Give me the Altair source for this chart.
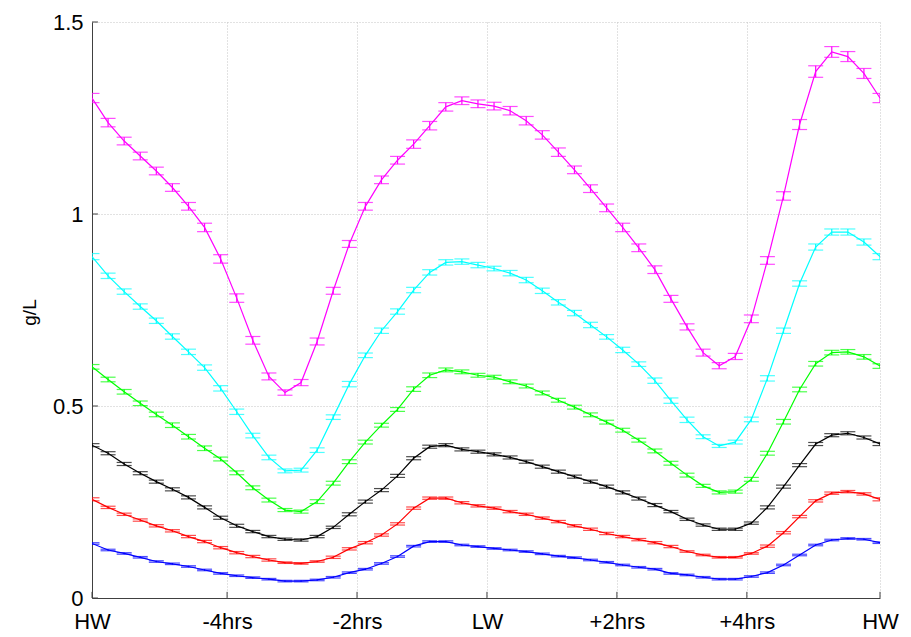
import altair as alt
import pandas as pd

# ---- data (index 0..49 over one tidal cycle HW -> HW) ----
series_names = ["blue", "red", "black", "green", "cyan", "magenta"]
series_colors = ["#0000FF", "#FF0000", "#000000", "#00FF00", "#00FFFF", "#FF00FF"]

magenta = [1.302, 1.238, 1.190, 1.151, 1.112, 1.069, 1.020, 0.965, 0.883, 0.781,
           0.671, 0.577, 0.535, 0.561, 0.668, 0.800, 0.922, 1.020, 1.089, 1.140,
           1.182, 1.230, 1.279, 1.295, 1.287, 1.281, 1.269, 1.243, 1.206, 1.161,
           1.115, 1.066, 1.016, 0.965, 0.912, 0.855, 0.779, 0.706, 0.639, 0.605,
           0.629, 0.727, 0.879, 1.047, 1.233, 1.371, 1.422, 1.410, 1.366, 1.302]
cyan = [0.889, 0.839, 0.798, 0.759, 0.722, 0.681, 0.641, 0.600, 0.546, 0.485,
        0.423, 0.366, 0.331, 0.333, 0.385, 0.471, 0.557, 0.632, 0.696, 0.746,
        0.802, 0.848, 0.874, 0.876, 0.867, 0.858, 0.846, 0.828, 0.800, 0.770,
        0.742, 0.711, 0.680, 0.646, 0.609, 0.566, 0.514, 0.464, 0.420, 0.396,
        0.406, 0.465, 0.572, 0.696, 0.819, 0.914, 0.953, 0.953, 0.927, 0.889]
green = [0.602, 0.569, 0.537, 0.507, 0.478, 0.450, 0.420, 0.390, 0.362, 0.326,
         0.287, 0.255, 0.229, 0.225, 0.251, 0.299, 0.355, 0.406, 0.450, 0.491,
         0.544, 0.580, 0.594, 0.589, 0.580, 0.575, 0.563, 0.552, 0.534, 0.515,
         0.497, 0.477, 0.458, 0.437, 0.411, 0.383, 0.351, 0.320, 0.292, 0.275,
         0.277, 0.309, 0.377, 0.459, 0.543, 0.610, 0.639, 0.641, 0.628, 0.604]
black = [0.398, 0.377, 0.349, 0.325, 0.303, 0.283, 0.262, 0.236, 0.209, 0.188,
         0.173, 0.160, 0.153, 0.151, 0.160, 0.184, 0.218, 0.251, 0.281, 0.318,
         0.364, 0.394, 0.398, 0.387, 0.381, 0.374, 0.366, 0.355, 0.342, 0.329,
         0.316, 0.303, 0.290, 0.275, 0.259, 0.242, 0.225, 0.205, 0.190, 0.179,
         0.179, 0.195, 0.236, 0.290, 0.346, 0.401, 0.424, 0.429, 0.418, 0.401]
red = [0.257, 0.236, 0.218, 0.203, 0.188, 0.175, 0.160, 0.147, 0.131, 0.118,
       0.108, 0.099, 0.092, 0.090, 0.095, 0.106, 0.128, 0.144, 0.164, 0.193,
       0.234, 0.260, 0.260, 0.248, 0.240, 0.234, 0.225, 0.218, 0.208, 0.199,
       0.188, 0.179, 0.168, 0.160, 0.152, 0.144, 0.134, 0.121, 0.112, 0.106,
       0.106, 0.116, 0.135, 0.170, 0.212, 0.253, 0.273, 0.277, 0.271, 0.257]
blue = [0.142, 0.125, 0.116, 0.106, 0.095, 0.089, 0.082, 0.073, 0.064, 0.058,
        0.053, 0.049, 0.044, 0.044, 0.047, 0.054, 0.066, 0.075, 0.090, 0.108,
        0.135, 0.147, 0.147, 0.138, 0.134, 0.129, 0.125, 0.121, 0.115, 0.109,
        0.105, 0.099, 0.093, 0.086, 0.080, 0.075, 0.064, 0.060, 0.054, 0.049,
        0.049, 0.056, 0.066, 0.086, 0.112, 0.138, 0.151, 0.155, 0.153, 0.144]

# half-heights of the error bars (g/L)
magenta_err = [0.012, 0.011, 0.010, 0.010, 0.010, 0.010, 0.010, 0.011, 0.011, 0.011,
               0.010, 0.009, 0.007, 0.008, 0.009, 0.009, 0.009, 0.010, 0.010, 0.010,
               0.011, 0.011, 0.011, 0.010, 0.010, 0.010, 0.011, 0.011, 0.011, 0.011,
               0.010, 0.010, 0.010, 0.011, 0.010, 0.010, 0.009, 0.008, 0.009, 0.008,
               0.008, 0.010, 0.010, 0.011, 0.013, 0.015, 0.014, 0.013, 0.013, 0.012]
cyan_err = [0.008, 0.007, 0.007, 0.007, 0.007, 0.007, 0.007, 0.007, 0.007, 0.007,
            0.006, 0.006, 0.005, 0.005, 0.006, 0.006, 0.007, 0.006, 0.007, 0.007,
            0.007, 0.007, 0.007, 0.007, 0.007, 0.006, 0.007, 0.007, 0.007, 0.007,
            0.007, 0.007, 0.006, 0.007, 0.006, 0.007, 0.007, 0.007, 0.005, 0.004,
            0.005, 0.006, 0.007, 0.007, 0.007, 0.008, 0.008, 0.008, 0.008, 0.008]
green_err = [0.006, 0.006, 0.006, 0.006, 0.006, 0.006, 0.006, 0.006, 0.005, 0.005,
             0.005, 0.005, 0.004, 0.004, 0.005, 0.005, 0.005, 0.005, 0.005, 0.005,
             0.006, 0.006, 0.005, 0.005, 0.005, 0.005, 0.005, 0.005, 0.005, 0.005,
             0.005, 0.005, 0.005, 0.005, 0.005, 0.005, 0.005, 0.005, 0.004, 0.004,
             0.004, 0.005, 0.005, 0.006, 0.006, 0.006, 0.006, 0.006, 0.006, 0.006]
black_err = [0.004, 0.004, 0.004, 0.004, 0.004, 0.004, 0.004, 0.004, 0.004, 0.004,
             0.003, 0.003, 0.003, 0.003, 0.003, 0.003, 0.004, 0.004, 0.004, 0.004,
             0.004, 0.004, 0.004, 0.004, 0.004, 0.004, 0.004, 0.004, 0.004, 0.004,
             0.004, 0.004, 0.004, 0.004, 0.004, 0.004, 0.003, 0.003, 0.003, 0.003,
             0.003, 0.003, 0.004, 0.004, 0.004, 0.004, 0.004, 0.004, 0.004, 0.004]
red_err = [0.004, 0.003, 0.003, 0.003, 0.003, 0.003, 0.003, 0.003, 0.003, 0.003,
           0.003, 0.003, 0.002, 0.002, 0.002, 0.003, 0.003, 0.003, 0.003, 0.003,
           0.003, 0.003, 0.003, 0.003, 0.003, 0.003, 0.003, 0.003, 0.003, 0.003,
           0.003, 0.003, 0.003, 0.003, 0.003, 0.003, 0.003, 0.002, 0.002, 0.002,
           0.002, 0.002, 0.003, 0.003, 0.003, 0.003, 0.003, 0.003, 0.003, 0.004]
blue_err = [0.002, 0.002, 0.002, 0.002, 0.002, 0.002, 0.002, 0.002, 0.002, 0.002,
            0.002, 0.002, 0.002, 0.002, 0.002, 0.002, 0.002, 0.002, 0.002, 0.002,
            0.002, 0.002, 0.002, 0.002, 0.002, 0.002, 0.002, 0.002, 0.002, 0.002,
            0.002, 0.002, 0.002, 0.002, 0.002, 0.002, 0.002, 0.002, 0.002, 0.002,
            0.002, 0.002, 0.002, 0.002, 0.002, 0.002, 0.002, 0.002, 0.002, 0.002]

x_tick_pos = [0, 8.40, 16.48, 24.56, 32.64, 40.72, 49]
x_tick_labels = ["HW", "-4hrs", "-2hrs", "LW", "+2hrs", "+4hrs", "HW"]
y_tick_pos = [0, 0.5, 1, 1.5]

values = {"blue": blue, "red": red, "black": black, "green": green, "cyan": cyan, "magenta": magenta}
errors = {"blue": blue_err, "red": red_err, "black": black_err, "green": green_err,
          "cyan": cyan_err, "magenta": magenta_err}

rows = []
for name in series_names:
    for i, (v, e) in enumerate(zip(values[name], errors[name])):
        rows.append({"series": name, "i": i, "v": v, "lo": v - e, "hi": v + e})
df = pd.DataFrame(rows)

FONT = "Liberation Sans"
AX = "#404040"

xscale = alt.Scale(domain=[0, 49], nice=False, zero=False)
yscale = alt.Scale(domain=[0, 1.5], nice=False)
color = alt.Color("series:N", scale=alt.Scale(domain=series_names, range=series_colors), legend=None)

label_js = "[" + ",".join("'%s'" % s for s in x_tick_labels) + "]"
pos_js = "[" + ",".join(str(p) for p in x_tick_pos) + "]"

x_axis = alt.Axis(values=x_tick_pos, labelExpr=f"{label_js}[indexof({pos_js}, datum.value)]",
                  title=None, tickSize=0, labelPadding=13, labelFontSize=22, labelFont=FONT,
                  labelColor="#000000", domainColor=AX, grid=True, gridColor="#c4c4c4",
                  gridDash=[1, 2], labelFlush=False, labelOverlap=False)
y_axis = alt.Axis(values=y_tick_pos, format="~g", title="g/L", titleFontSize=19,
                  titleFont=FONT, titleFontWeight="normal", titleColor="#000000",
                  titleX=-63, titleY=290, titleAlign="center", titleBaseline="middle",
                  tickSize=0, labelPadding=9, labelFontSize=22, labelFont=FONT,
                  labelColor="#000000", domainColor=AX, grid=True, gridColor="#c4c4c4",
                  gridDash=[1, 2], labelFlush=False, labelOverlap=False)

base = alt.Chart(df)

lines = base.mark_line(strokeWidth=1.2, clip=True).encode(
    x=alt.X("i:Q", scale=xscale, axis=x_axis),
    y=alt.Y("v:Q", scale=yscale, axis=y_axis),
    color=color, detail="series:N")

bars = base.mark_rule(strokeWidth=1.2, clip=True).encode(
    x="i:Q", y="lo:Q", y2="hi:Q", color=color)
caps_lo = base.mark_tick(size=15, thickness=1.2, orient="horizontal", clip=True).encode(
    x="i:Q", y="lo:Q", color=color)
caps_hi = base.mark_tick(size=15, thickness=1.2, orient="horizontal", clip=True).encode(
    x="i:Q", y="hi:Q", color=color)

xt = pd.DataFrame({"p": x_tick_pos})
yt = pd.DataFrame({"p": y_tick_pos})
xticks = alt.Chart(xt).mark_rule(color=AX, strokeWidth=1).encode(
    x="p:Q", y=alt.datum(0), y2=alt.datum(0.016))
yticks = alt.Chart(yt).mark_rule(color=AX, strokeWidth=1).encode(
    y="p:Q", x=alt.datum(0), x2=alt.datum(0.37))

chart = alt.layer(lines, bars, caps_lo, caps_hi, xticks, yticks).properties(
    width=788, height=576,
    autosize=alt.AutoSizeParams(type="none"),
    padding={"left": 92, "top": 22, "right": 31, "bottom": 39},
    background="#ffffff",
).configure_view(strokeWidth=0)

chart.save("out.html", embed_options={"renderer": "svg", "actions": False})
